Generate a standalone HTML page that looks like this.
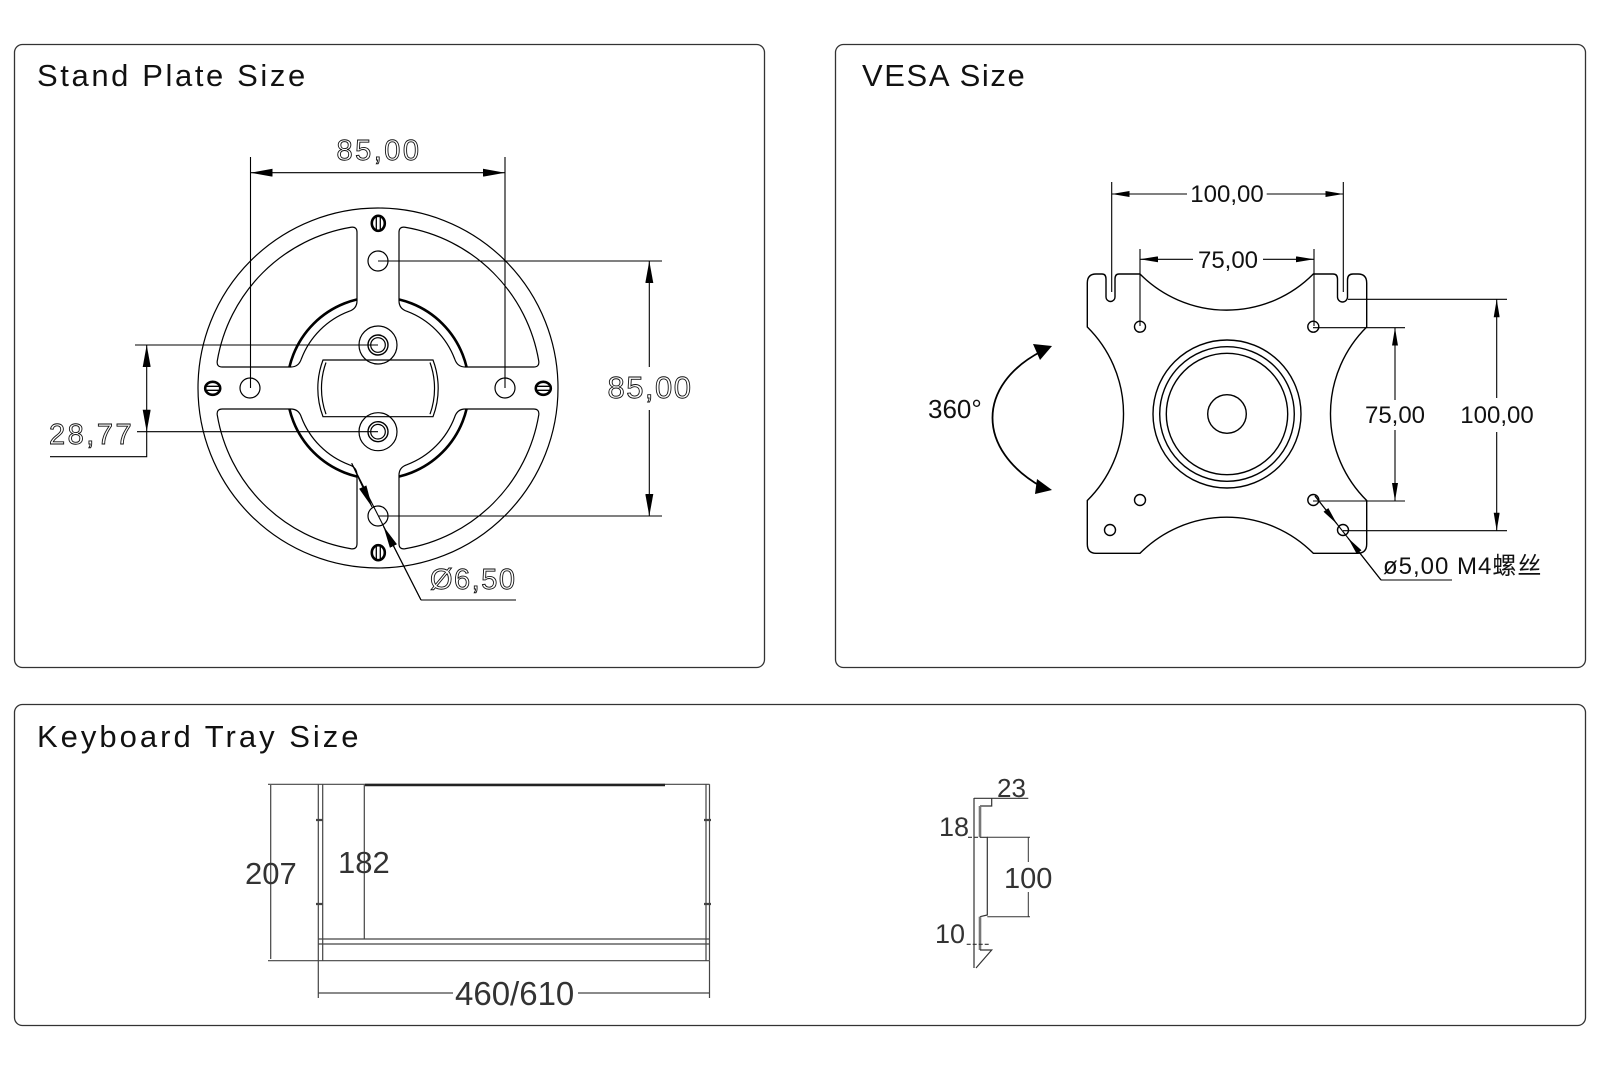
<!DOCTYPE html>
<html><head><meta charset="utf-8"><style>html,body{margin:0;padding:0;background:#fff;}svg{display:block;}</style></head>
<body>
<svg xmlns="http://www.w3.org/2000/svg" width="1600" height="1070" viewBox="0 0 1600 1070">
<defs>
<marker id="a1" viewBox="0 0 22 8" refX="22" refY="4" markerWidth="22" markerHeight="8" markerUnits="userSpaceOnUse" orient="auto"><path d="M0,0 L22,4 L0,8 z" fill="#000"/></marker>
<marker id="a2" viewBox="0 0 18 6" refX="18" refY="3" markerWidth="18" markerHeight="6" markerUnits="userSpaceOnUse" orient="auto"><path d="M0,0 L18,3 L0,6 z" fill="#000"/></marker>
<clipPath id="cc">
<path transform="translate(378,388)" d="M21,-87.3 L21,-155.6 Q21,-161.6 27,-160.75 A163,163 0 0 1 160.75,-27 Q161.6,-21 155.6,-21 L87.3,-21 Q79.3,-21 76.7,-29 A82,82 0 0 0 29,-76.7 Q21,-79.3 21,-87.3 Z"/>
<path transform="translate(378,388) scale(-1,1)" d="M21,-87.3 L21,-155.6 Q21,-161.6 27,-160.75 A163,163 0 0 1 160.75,-27 Q161.6,-21 155.6,-21 L87.3,-21 Q79.3,-21 76.7,-29 A82,82 0 0 0 29,-76.7 Q21,-79.3 21,-87.3 Z"/>
<path transform="translate(378,388) scale(1,-1)" d="M21,-87.3 L21,-155.6 Q21,-161.6 27,-160.75 A163,163 0 0 1 160.75,-27 Q161.6,-21 155.6,-21 L87.3,-21 Q79.3,-21 76.7,-29 A82,82 0 0 0 29,-76.7 Q21,-79.3 21,-87.3 Z"/>
<path transform="translate(378,388) scale(-1,-1)" d="M21,-87.3 L21,-155.6 Q21,-161.6 27,-160.75 A163,163 0 0 1 160.75,-27 Q161.6,-21 155.6,-21 L87.3,-21 Q79.3,-21 76.7,-29 A82,82 0 0 0 29,-76.7 Q21,-79.3 21,-87.3 Z"/>
</clipPath>
</defs>
<rect width="1600" height="1070" fill="#fff"/>

<!-- Panels -->
<g fill="none" stroke="#333" stroke-width="1.3">
<rect x="14.5" y="44.5" width="750" height="623" rx="8"/>
<rect x="835.5" y="44.5" width="750" height="623" rx="8"/>
<rect x="14.5" y="704.5" width="1571" height="321" rx="8"/>
</g>

<!-- Titles -->
<g font-family="Liberation Sans, Arial, sans-serif" font-size="31" fill="#111">
<text x="37" y="86" letter-spacing="2.6">Stand Plate Size</text>
<text x="862" y="86" letter-spacing="1.6">VESA Size</text>
<text x="37" y="747" letter-spacing="3">Keyboard Tray Size</text>
</g>

<!-- ================= Stand plate ================= -->
<g fill="none" stroke="#000" stroke-width="1.2">
<circle cx="378" cy="388" r="180"/>
<g transform="translate(378,388)">
<path d="M21,-87.3 L21,-155.6 Q21,-161.6 27,-160.75 A163,163 0 0 1 160.75,-27 Q161.6,-21 155.6,-21 L87.3,-21 Q79.3,-21 76.7,-29 A82,82 0 0 0 29,-76.7 Q21,-79.3 21,-87.3 Z"/>
<path transform="scale(-1,1)" d="M21,-87.3 L21,-155.6 Q21,-161.6 27,-160.75 A163,163 0 0 1 160.75,-27 Q161.6,-21 155.6,-21 L87.3,-21 Q79.3,-21 76.7,-29 A82,82 0 0 0 29,-76.7 Q21,-79.3 21,-87.3 Z"/>
<path transform="scale(1,-1)" d="M21,-87.3 L21,-155.6 Q21,-161.6 27,-160.75 A163,163 0 0 1 160.75,-27 Q161.6,-21 155.6,-21 L87.3,-21 Q79.3,-21 76.7,-29 A82,82 0 0 0 29,-76.7 Q21,-79.3 21,-87.3 Z"/>
<path transform="scale(-1,-1)" d="M21,-87.3 L21,-155.6 Q21,-161.6 27,-160.75 A163,163 0 0 1 160.75,-27 Q161.6,-21 155.6,-21 L87.3,-21 Q79.3,-21 76.7,-29 A82,82 0 0 0 29,-76.7 Q21,-79.3 21,-87.3 Z"/>
</g>
<circle cx="378" cy="388" r="91" stroke-width="2.6" clip-path="url(#cc)"/>
<!-- center slot -->
<path d="M323,360 L433,360 A80,80 0 0 1 433,416.7 L323,416.7 A80,80 0 0 1 323,360 Z"/>
<path d="M430,362.5 A76,76 0 0 1 430,414.2 M326,414.2 A76,76 0 0 1 326,362.5"/>
<!-- center holes -->
<circle cx="378" cy="345" r="19"/>
<circle cx="378" cy="345" r="10" stroke-width="1.4"/>
<circle cx="378" cy="345" r="7.3"/>
<circle cx="378" cy="431.7" r="19"/>
<circle cx="378" cy="431.7" r="10" stroke-width="1.4"/>
<circle cx="378" cy="431.7" r="7.3"/>
<!-- arm holes -->
<circle cx="378" cy="261" r="10"/>
<circle cx="378" cy="516" r="10"/>
<circle cx="250" cy="388" r="10"/>
<circle cx="505" cy="388" r="10"/>
</g>
<!-- screws -->
<g fill="none" stroke="#000">
<ellipse cx="378.3" cy="223.3" rx="6.5" ry="7.5" stroke-width="2.6"/>
<path d="M376.3,217 V229.6 M380.3,217 V229.6" stroke-width="1.3"/>
<ellipse cx="378.3" cy="552.7" rx="6.5" ry="7.5" stroke-width="2.6"/>
<path d="M376.3,546.4 V559 M380.3,546.4 V559" stroke-width="1.3"/>
<ellipse cx="212.7" cy="388.3" rx="7.5" ry="6.5" stroke-width="2.6"/>
<path d="M206.4,386.3 H219 M206.4,390.3 H219" stroke-width="1.3"/>
<ellipse cx="543.3" cy="388.3" rx="7.5" ry="6.5" stroke-width="2.6"/>
<path d="M537,386.3 H549.6 M537,390.3 H549.6" stroke-width="1.3"/>
</g>
<!-- stand plate dimensions -->
<g fill="none" stroke="#000" stroke-width="1.1">
<path d="M250.5,157 V388 M505,157 V388"/>
<path d="M378,261 H662 M378,516 H662"/>
<path d="M135,345 H378 M137,431.7 H378"/>
<line x1="378" y1="172.7" x2="250.5" y2="172.7" marker-end="url(#a1)"/>
<line x1="378" y1="172.7" x2="505" y2="172.7" marker-end="url(#a1)"/>
<line x1="649.3" y1="367" x2="649.3" y2="261" marker-end="url(#a1)"/>
<line x1="649.3" y1="410" x2="649.3" y2="516" marker-end="url(#a1)"/>
<line x1="146.7" y1="388" x2="146.7" y2="345" marker-end="url(#a1)"/>
<line x1="146.7" y1="388" x2="146.7" y2="431.7" marker-end="url(#a1)"/>
<path d="M146.7,431.7 V456.7 H50"/>
<line x1="351.7" y1="463.3" x2="421" y2="600"/>
<line x1="351.7" y1="463.3" x2="372" y2="507" marker-end="url(#a1)"/>
<line x1="421" y1="600" x2="383.5" y2="526.5" marker-end="url(#a1)"/>
<path d="M421,600 H516"/>
</g>
<g font-family="Liberation Sans, Arial, sans-serif" fill="none" stroke="#111" stroke-width="0.9">
<text x="379" y="160" font-size="29" letter-spacing="2.5" text-anchor="middle">85,00</text>
<text x="650" y="398" font-size="31" letter-spacing="1.5" text-anchor="middle">85,00</text>
<text x="49" y="444" font-size="29" letter-spacing="2.5">28,77</text>
<text x="430" y="589" font-size="29" letter-spacing="1.5">Ø6,50</text>
</g>

<!-- ================= VESA ================= -->
<g fill="none" stroke="#000" stroke-width="1.4">
<path d="M1087.3,327 L1087.3,283 Q1087.3,274 1096,274 L1102,274 Q1106,274 1106,279 L1106,297 A4.5,4.5 0 0 0 1115,297 L1115,279 Q1115,274 1119,274 L1140,274 A122,122 0 0 0 1313.3,274 L1333,274 Q1337.5,274 1337.5,279 L1337.5,297 A5,5 0 0 0 1347.5,297 L1347.5,280 Q1347.5,274 1353,274 L1358,274 Q1366.7,274 1366.7,283 L1366.7,327 A122,122 0 0 0 1366.7,500.5 L1366.7,544 Q1366.7,553.3 1357.5,553.3 L1313.3,553.3 A122,122 0 0 0 1140,553.3 L1096,553.3 Q1087.3,553.3 1087.3,544 L1087.3,500.5 A122,122 0 0 0 1087.3,327 Z"/>
<circle cx="1140" cy="326.7" r="5.5"/>
<circle cx="1313.3" cy="326.7" r="5.5"/>
<circle cx="1140" cy="500" r="5.5"/>
<circle cx="1313.3" cy="500" r="5.5"/>
<circle cx="1110" cy="530" r="5.5"/>
<circle cx="1343" cy="530" r="5.5"/>
<circle cx="1227" cy="414" r="74"/>
<circle cx="1227" cy="414" r="67.3"/>
<circle cx="1227" cy="414" r="60.7"/>
<circle cx="1227" cy="414" r="19.3"/>
</g>
<g fill="none" stroke="#000" stroke-width="1.1">
<path d="M1111.7,182 V292 M1343.3,182 V292"/>
<path d="M1140,249 V326 M1314,249 V326"/>
<path d="M1313,327.7 H1405 M1313,501 H1405"/>
<path d="M1348,299.3 H1507 M1343,530.7 H1507"/>
<line x1="1187" y1="194" x2="1111.7" y2="194" marker-end="url(#a2)"/>
<line x1="1266.7" y1="194" x2="1343.3" y2="194" marker-end="url(#a2)"/>
<line x1="1193" y1="259.3" x2="1140" y2="259.3" marker-end="url(#a2)"/>
<line x1="1263" y1="259.3" x2="1314" y2="259.3" marker-end="url(#a2)"/>
<line x1="1395" y1="400" x2="1395" y2="327.7" marker-end="url(#a2)"/>
<line x1="1395" y1="430" x2="1395" y2="501" marker-end="url(#a2)"/>
<line x1="1496.7" y1="398" x2="1496.7" y2="299.3" marker-end="url(#a2)"/>
<line x1="1496.7" y1="432" x2="1496.7" y2="530.7" marker-end="url(#a2)"/>
<line x1="1315" y1="496" x2="1381" y2="580"/>
<line x1="1315" y1="496" x2="1337" y2="524" marker-end="url(#a2)"/>
<line x1="1381" y1="580" x2="1348" y2="538" marker-end="url(#a2)"/>
<path d="M1381,580 H1452"/>
<path d="M1042,351 C976,385 976,450 1042,487" stroke-width="1.8"/>
</g>
<polygon points="1033,344 1052,346 1040,360" fill="#000"/>
<polygon points="1037,479 1052,490 1035,494" fill="#000"/>
<g font-family="Liberation Sans, Arial, sans-serif" fill="#111" font-size="24">
<text x="1227" y="202" text-anchor="middle">100,00</text>
<text x="1228" y="268" text-anchor="middle">75,00</text>
<text x="1395" y="423" text-anchor="middle">75,00</text>
<text x="1497" y="423" text-anchor="middle">100,00</text>
<text x="928" y="418" font-size="26">360°</text>
<text x="1383" y="574" letter-spacing="1" font-family="Liberation Sans, 'Noto Sans CJK SC', sans-serif">ø5,00 M4螺丝</text>
</g>

<!-- ================= Keyboard tray ================= -->
<g fill="none" stroke="#444" stroke-width="1.2">
<path d="M318.3,784.3 V960.7 M322.7,784.3 V960.7"/>
<path d="M706,784.3 V960.7 M709.5,784.3 V960.7"/>
<path d="M268,784.3 H709.5"/>
<path d="M365,785 H665" stroke="#222" stroke-width="2.6"/>
<path d="M364.3,785 V939"/>
<path d="M318.3,939 H709.5 M318.3,944 H709.5 M268,960.7 H709.5"/>
<path d="M270.7,785 V959"/>
<path d="M316,820 H323 M316,904 H323 M704,820 H711 M704,904 H711" stroke-width="2.2"/>
<path d="M318.3,961 V998 M709.5,961 V998"/>
<path d="M318.3,993 H453 M578,993 H709.5"/>
</g>
<g fill="none" stroke="#333" stroke-width="1.2">
<path d="M974,798 V968"/>
<path d="M974,798.3 H1028.3"/>
<path d="M991.7,798.3 V806 H980"/>
<path d="M980,806 V837.3" stroke="#777" stroke-width="2.6"/>
<path d="M980,837.3 H987.3 V915 L980,916.7"/>
<path d="M980,916.7 V950" stroke="#777" stroke-width="2.6"/>
<path d="M980,950 H991.7 L976,968"/>
<path d="M968,837.3 H980 M966.7,944.3 H990" stroke-dasharray="4,2"/>
<path d="M987.3,837.3 H1030 M987.3,916.7 H1030" stroke-width="1"/>
<path d="M1028.3,837.3 V862 M1028.3,892 V916.7" stroke-width="1"/>
</g>
<g font-family="Liberation Sans, Arial, sans-serif" fill="#333">
<text x="245" y="884" font-size="31">207</text>
<text x="338" y="873" font-size="31">182</text>
<text x="455" y="1005" font-size="33">460/610</text>
<text x="997" y="797" font-size="26">23</text>
<text x="939" y="836" font-size="27">18</text>
<text x="1004" y="888" font-size="29">100</text>
<text x="935" y="943" font-size="27">10</text>
</g>
</svg>
</body></html>
